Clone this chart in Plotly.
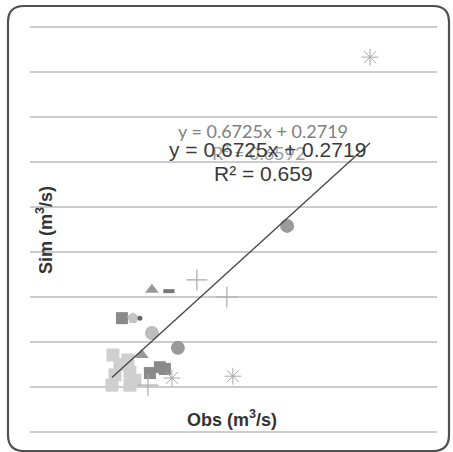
import plotly.graph_objects as go

# ---- data ----
ast_x = [7.66, 3.54, 1.71]
ast_y = [7.33, 0.24, 0.20]
circ_x = [5.17, 1.89]
circ_y = [3.58, 0.87]
circl_x = [1.11]
circl_y = [1.20]
plus_x = [2.46, 3.36, 0.99]
plus_y = [2.38, 2.00, 0.04]
tri_x = [1.11, 0.81]
tri_y = [2.16, 0.71]
dash_x = [1.62]
dash_y = [2.13]
sqd_x = [0.21, 1.35, 1.05, 1.50]
sqd_y = [1.53, 0.44, 0.31, 0.40]
sql_x = [-0.06, 0.00, 0.45, 0.39, -0.09, 0.45, 0.15, 0.60]
sql_y = [0.71, 0.27, 0.33, 0.60, 0.04, 0.04, 0.50, 0.15]
dia_x = [0.54]
dia_y = [1.53]
dot_x = [0.75]
dot_y = [1.53]

slope = 0.6725
intercept = 0.2719
eq_text = "y = 0.6725x + 0.2719"
r2_text = "R² = 0.659"
r2_alt_text = "R² = 0.6592"
x_title = "Obs (m<sup>3</sup>/s)"
y_title = "Sim (m<sup>3</sup>/s)"

W, H = 453, 452
L, R, T, B = 30, 437, 25, 434
Y_LO, Y_HI = -1 - 2 / 45, 8 + 2 / 45


def px(x):
    return (x - L) / (R - L)


def py(y):
    return (B - y) / (B - T)


fig = go.Figure()

def add(xs, ys, symbol, color, size, lw=0, lc=None):
    fig.add_trace(go.Scatter(
        x=xs, y=ys, mode="markers",
        marker=dict(symbol=symbol, color=color, size=size,
                    line=dict(width=lw, color=lc or color)),
        showlegend=False, hoverinfo="skip"))

add(sql_x, sql_y, "square", "#cfcfcf", 13)
add(sqd_x, sqd_y, "square", "#8a8a8a", 12)
add(dia_x, dia_y, "pentagon", "#c4c4c4", 12)
add(dot_x, dot_y, "circle", "#666666", 5)
add(circ_x, circ_y, "circle", "#9a9a9a", 14)
add(circl_x, circl_y, "circle", "#bdbdbd", 14)
add(tri_x, tri_y, "triangle-up", "#999999", 12)
add(dash_x, dash_y, "line-ew-open", "#777777", 8, lw=4)
add(plus_x, plus_y, "cross-thin-open", "#aaaaaa", 15, lw=1.2)
add(ast_x, ast_y, "asterisk-open", "#a8a8a8", 14, lw=1)

all_x = ast_x + circ_x + circl_x + plus_x + tri_x + dash_x + sqd_x + sql_x + dia_x + dot_x
x0, x1 = min(all_x), max(all_x)
fig.add_trace(go.Scatter(
    x=[x0, x1], y=[slope * x0 + intercept, slope * x1 + intercept],
    mode="lines", line=dict(color="#444444", width=1.3),
    showlegend=False, hoverinfo="skip"))

ann = []
ann.append(dict(x=px(263), y=py(131), text=eq_text, font=dict(family="Lato", size=18, color="#808080")))
ann.append(dict(x=px(258), y=py(153), text=r2_alt_text, font=dict(family="Lato", size=18, color="#a0a0a0")))
ann.append(dict(x=px(267), y=py(149), text=eq_text, font=dict(family="Liberation Sans", size=21, color="#3a3a3a")))
ann.append(dict(x=px(263), y=py(173), text=r2_text, font=dict(family="Liberation Sans", size=21, color="#3a3a3a")))
ann.append(dict(x=px(232), y=py(418), text="<b>" + x_title + "</b>", font=dict(family="Liberation Sans", size=18, color="#333333")))
ann.append(dict(x=px(45), y=py(230), text="<b>" + y_title + "</b>", textangle=-90, font=dict(family="Liberation Sans", size=18, color="#333333")))
for a in ann:
    a.update(xref="paper", yref="paper", showarrow=False, xanchor="center", yanchor="middle")

# rounded border
bx0, by0, bx1, by1, r = 8, 6, 449, 451, 16
path = (f"M {px(bx0 + r)} {py(by0)} L {px(bx1 - r)} {py(by0)} "
        f"Q {px(bx1)} {py(by0)} {px(bx1)} {py(by0 + r)} "
        f"L {px(bx1)} {py(by1 - r)} Q {px(bx1)} {py(by1)} {px(bx1 - r)} {py(by1)} "
        f"L {px(bx0 + r)} {py(by1)} Q {px(bx0)} {py(by1)} {px(bx0)} {py(by1 - r)} "
        f"L {px(bx0)} {py(by0 + r)} Q {px(bx0)} {py(by0)} {px(bx0 + r)} {py(by0)} Z")
shapes = [dict(type="path", xref="paper", yref="paper", path=path,
               line=dict(color="#505050", width=2.2), layer="above")]

fig.update_layout(
    width=W, height=H,
    margin=dict(l=L, r=W - R, t=T, b=H - B),
    paper_bgcolor="white", plot_bgcolor="white",
    xaxis=dict(range=[-2.55, 9.67], showgrid=False, zeroline=False,
               showticklabels=False, showline=False, ticks=""),
    yaxis=dict(range=[Y_LO, Y_HI], dtick=1, tick0=0, showgrid=True,
               gridcolor="#cccccc", gridwidth=1.5, zeroline=False,
               showticklabels=False, showline=False, ticks=""),
    annotations=ann, shapes=shapes,
)

fig.write_html("out.html")
